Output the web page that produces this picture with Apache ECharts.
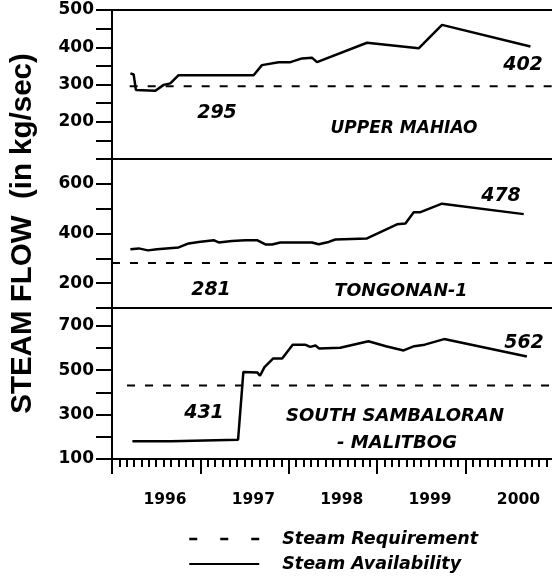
<!DOCTYPE html>
<html>
<head>
<meta charset="utf-8">
<script src="https://cdn.jsdelivr.net/npm/echarts@6/dist/echarts.min.js"></script>
<style>
  html, body { margin: 0; padding: 0; background: #fff; }
  #chart { width: 552px; height: 582px; }
</style>
</head>
<body>
<div id="chart"></div>
<script>
// Upper Mahiao (panel 1)
const mahiaoYears = [1996.208, 1996.245, 1996.271, 1996.491, 1996.585, 1996.660, 1996.754, 1997.603, 1997.697,
  1997.886, 1998.019, 1998.150, 1998.263, 1998.320, 1998.886, 1999.471, 1999.735, 2000.736]
const mahiaoFlow = [330, 327, 285, 283, 299, 303, 325, 325, 352, 360, 360, 370, 372, 360, 412, 397, 460, 402]

// Tongonan-1 (panel 2)
const tongonanYears = [1996.208, 1996.302, 1996.407, 1996.509, 1996.754, 1996.868, 1996.981, 1997.151, 1997.207,
  1997.358, 1997.509, 1997.641, 1997.736, 1997.811, 1997.906, 1998.113, 1998.263, 1998.339, 1998.452, 1998.528,
  1998.886, 1999.226, 1999.321, 1999.415, 1999.491, 1999.735, 2000.660]
const tongonanFlow = [337, 340, 332, 337, 344, 360, 366, 373, 364, 370, 373, 373, 356, 356, 364, 364, 364, 357,
  366, 376, 380, 437, 440, 486, 486, 520, 478]

// South Sambaloran - Malitbog (panel 3)
const sambaloranYears = [1996.231, 1996.669, 1997.427, 1997.487, 1997.646, 1997.675, 1997.726, 1997.825, 1997.926,
  1998.045, 1998.184, 1998.244, 1998.304, 1998.344, 1998.583, 1998.902, 1999.101, 1999.300, 1999.420, 1999.540,
  1999.759, 2000.696]
const sambaloranFlow = [180, 180, 187, 492, 489, 475, 514, 553, 553, 615, 615, 605, 611, 598, 601, 630, 608, 589,
  608, 615, 640, 562]

// steam requirement levels and where the dashed line starts
const requirement = [295, 281, 431]
const requirementStart = [1996.2, 1996.0, 1996.17]

const yearLabels = [1996, 1997, 1998, 1999, 2000]
const panelNames = ['UPPER MAHIAO', 'TONGONAN-1', 'SOUTH SAMBALORAN', '- MALITBOG']

const xMin = 1996
const xMax = 2000.98

const monthTicks = []
for (let m = 1; m < 60; m++) monthTicks.push(xMin + m / 12)
const yearTicks = yearLabels.slice()
const yearLabelPos = yearLabels.map(y => y + 0.6)

const BLACK = '#000'
const numFont = 'DejaVu Sans'

const pairs = (xs, ys) => xs.map((x, i) => [x, ys[i]])

const chart = echarts.init(document.getElementById('chart'))

const plainX = (gridIndex, position) => ({
  type: 'value',
  gridIndex: gridIndex,
  position: position || 'bottom',
  min: xMin,
  max: xMax,
  axisLine: { show: true, onZero: false, lineStyle: { color: BLACK, width: 2 } },
  axisTick: { show: false },
  axisLabel: { show: false },
  splitLine: { show: false },
})

const yAxis = (gridIndex, min, max, ticks, labels, extra) => Object.assign({
  type: 'value',
  gridIndex: gridIndex,
  min: min,
  max: max,
  axisLine: { show: true, lineStyle: { color: BLACK, width: 2 } },
  axisTick: { show: true, length: 16, customValues: ticks, lineStyle: { color: BLACK, width: 2 } },
  axisLabel: {
    customValues: labels,
    margin: 18,
    color: BLACK,
    fontFamily: numFont,
    fontWeight: 'bold',
    fontSize: 17,
  },
  splitLine: { show: false },
}, extra || {})

const availability = (idx, xs, ys) => ({
  name: 'Steam Availability',
  type: 'line',
  xAxisIndex: idx,
  yAxisIndex: idx,
  data: pairs(xs, ys),
  symbol: 'none',
  lineStyle: { color: BLACK, width: 2.5 },
  itemStyle: { color: BLACK },
  z: 3,
})

const required = idx => ({
  name: 'Steam Requirement',
  type: 'line',
  xAxisIndex: idx,
  yAxisIndex: idx,
  data: [[requirementStart[idx], requirement[idx]], [xMax, requirement[idx]]],
  symbol: 'none',
  lineStyle: { color: BLACK, width: 2, type: [8, 10] },
  itemStyle: { color: BLACK },
})

const txt = (x, y, text, size) => ({
  type: 'text',
  x: x,
  y: y,
  style: {
    text: text,
    font: 'italic bold ' + size + 'px "DejaVu Sans"',
    fill: BLACK,
    textAlign: 'center',
    textVerticalAlign: 'middle',
  },
})

const gridBase = { left: 112, right: 0, outerBoundsMode: 'none', containLabel: false }

const options = {
  backgroundColor: '#fff',
  animation: false,
  grid: [
    Object.assign({ top: 10, height: 149 }, gridBase),
    Object.assign({ top: 159, height: 149 }, gridBase),
    Object.assign({ top: 308, height: 151 }, gridBase),
  ],
  xAxis: [
    plainX(0),
    plainX(1),
    Object.assign(plainX(2), {
      axisTick: { show: true, length: 8, customValues: monthTicks, lineStyle: { color: BLACK, width: 2 } },
    }),
    plainX(0, 'top'),
    Object.assign(plainX(2), {
      axisLine: { show: false },
      axisTick: { show: true, length: 15, customValues: yearTicks, lineStyle: { color: BLACK, width: 2 } },
      axisLabel: {
        show: true,
        customValues: yearLabelPos,
        formatter: v => String(Math.floor(v + 1e-6)),
        margin: 33,
        color: BLACK,
        fontFamily: numFont,
        fontWeight: 'bold',
        fontSize: 15.5,
      },
    }),
  ],
  yAxis: [
    yAxis(0, 100, 500, [100, 150, 200, 250, 300, 350, 400, 450, 500], [200, 300, 400, 500]),
    yAxis(1, 100, 700, [100, 200, 300, 400, 500, 600, 700], [200, 400, 600], {
      name: 'STEAM FLOW  (in kg/sec)',
      nameLocation: 'middle',
      nameRotate: 90,
      nameGap: 74,
      nameTextStyle: { color: BLACK, fontFamily: 'Liberation Sans', fontWeight: 'bold', fontSize: 29.5 },
    }),
    yAxis(2, 100, 780, [100, 200, 300, 400, 500, 600, 700], [100, 300, 500, 700]),
  ],
  legend: {
    orient: 'vertical',
    left: 183,
    top: 525,
    itemWidth: 70,
    itemHeight: 14,
    itemGap: 7,
    itemStyle: { opacity: 0 },
    data: [
      { name: 'Steam Requirement', lineStyle: { type: [8, 23], width: 2.5 } },
      { name: 'Steam Availability', lineStyle: { width: 2 } },
    ],
    textStyle: {
      color: BLACK,
      fontFamily: numFont,
      fontStyle: 'italic',
      fontWeight: 'bold',
      fontSize: 17.5,
      padding: [0, 0, 0, 18],
    },
    selectedMode: false,
  },
  series: [
    availability(0, mahiaoYears, mahiaoFlow),
    required(0),
    availability(1, tongonanYears, tongonanFlow),
    required(1),
    availability(2, sambaloranYears, sambaloranFlow),
    required(2),
  ],
  graphic: [
    txt(217, 113, String(requirement[0]), 19),
    txt(523, 65, String(mahiaoFlow[mahiaoFlow.length - 1]), 19),
    txt(404, 129, panelNames[0], 17),
    txt(211, 290, String(requirement[1]), 19),
    txt(501, 196, String(tongonanFlow[tongonanFlow.length - 1]), 19),
    txt(401, 291, panelNames[1], 17.5),
    txt(204, 413, String(requirement[2]), 19),
    txt(524, 343, String(sambaloranFlow[sambaloranFlow.length - 1]), 19),
    txt(395, 416, panelNames[2], 18),
    txt(397, 443, panelNames[3], 18),
  ],
}

chart.setOption(options)
</script>
</body>
</html>
